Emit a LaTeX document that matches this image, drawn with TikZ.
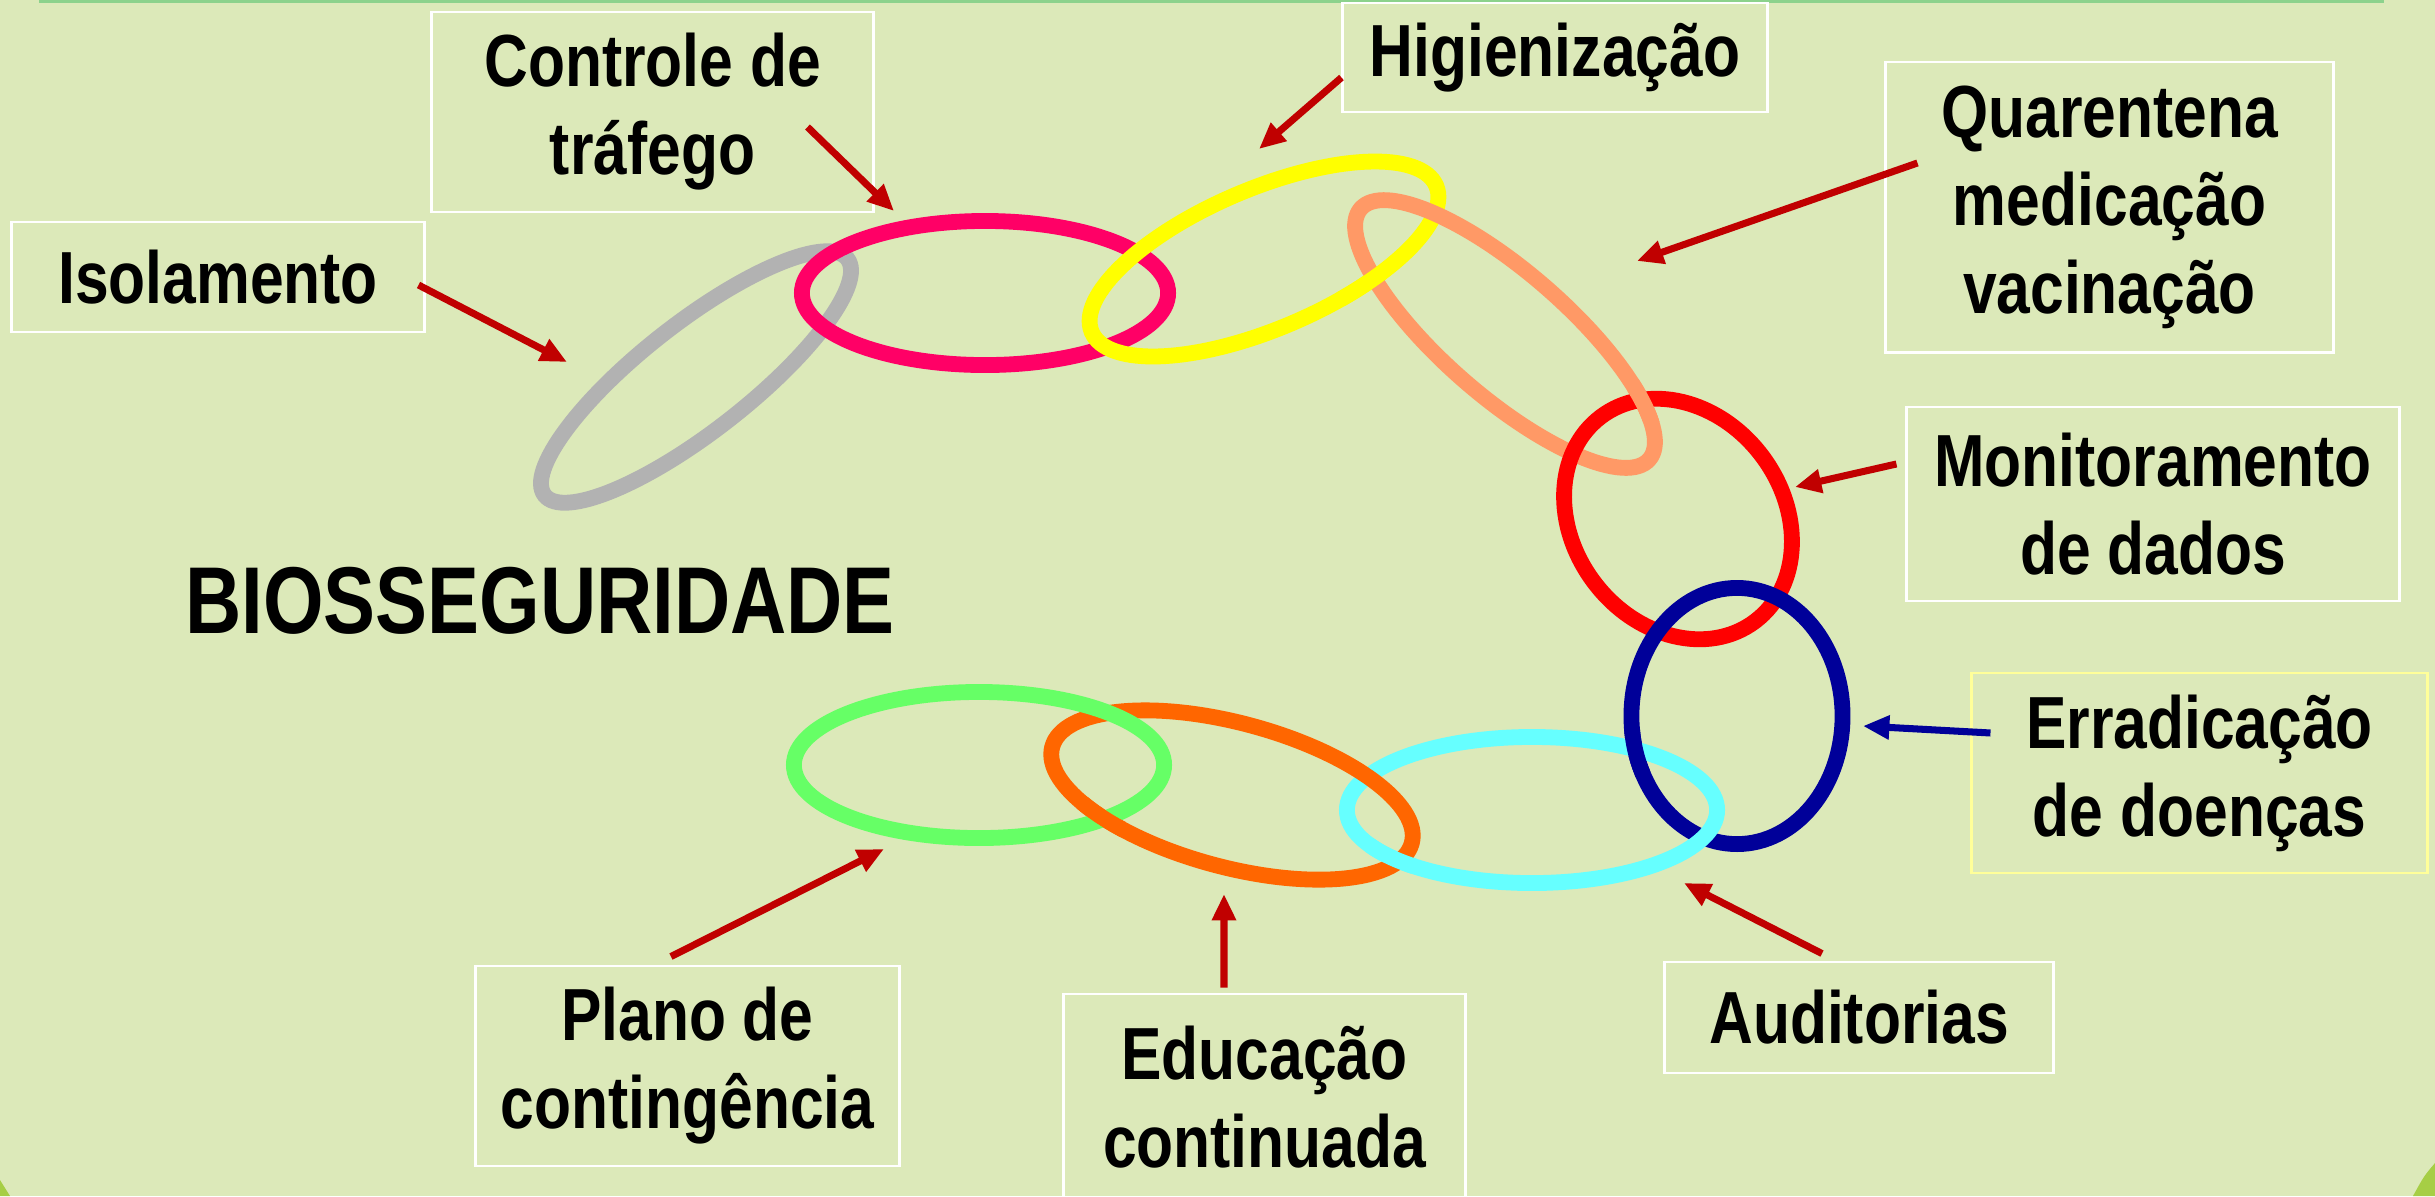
\documentclass[tikz,border=0pt]{standalone}
\usepackage{fontspec}
\setmainfont{Liberation Sans}[FakeStretch=0.82]
\usetikzlibrary{arrows.meta,shapes.geometric}

\definecolor{slidebg}{HTML}{DCE9B9}
\definecolor{topgreen}{HTML}{8CD28C}
\definecolor{cornergreen}{HTML}{A6CE45}
\definecolor{arrowred}{HTML}{C00000}
\definecolor{navy}{HTML}{000099}
\definecolor{paleyellow}{HTML}{FFFF99}
\definecolor{ringgray}{HTML}{B2B2B2}
\definecolor{ringpink}{HTML}{FF0066}
\definecolor{ringyellow}{HTML}{FFFF00}
\definecolor{ringsalmon}{HTML}{FF9966}
\definecolor{ringred}{HTML}{FF0000}
\definecolor{ringcyan}{HTML}{66FFFF}
\definecolor{ringorange}{HTML}{FF6600}
\definecolor{ringgreen}{HTML}{66FF66}

\tikzset{
  ring/.style={ellipse, draw=#1, line width=4.5pt},
  isol ring/.style={ring=ringgray, minimum width=3.84cm, minimum height=1.08cm, rotate=38},
  ctrl ring/.style={ring=ringpink, minimum width=3.66cm, minimum height=1.44cm},
  hig ring/.style={ring=ringyellow, minimum width=3.74cm, minimum height=1.40cm, rotate=23},
  quar ring/.style={ring=ringsalmon, minimum width=3.82cm, minimum height=1.24cm, rotate=-41},
  mon ring/.style={ring=ringred, minimum width=2.10cm, minimum height=2.56cm, rotate=37},
  err ring/.style={ring=navy, minimum width=2.11cm, minimum height=2.56cm},
  aud ring/.style={ring=ringcyan, minimum width=3.70cm, minimum height=1.46cm},
  edu ring/.style={ring=ringorange, minimum width=3.72cm, minimum height=1.44cm, rotate=-15},
  plano ring/.style={ring=ringgreen, minimum width=3.70cm, minimum height=1.46cm}
}

\begin{document}
\begin{tikzpicture}[x=0.01cm, y=-0.01cm,
  every node/.style={font=\bfseries\fontsize{21}{25}\selectfont, align=center, inner sep=0pt},
  box/.style={draw=white, line width=0.8pt},
  pointer/.style={-{Triangle[length=7.5pt, width=6.5pt]}, line width=2pt, draw=arrowred}]
% Slide background
\useasboundingbox (0,0) rectangle (2435,1196);
\fill[slidebg] (0,0) rectangle (2435,1196);
\fill[topgreen] (39,0) rectangle (2384,3);
\fill[cornergreen] (0,1180) -- (10,1196) -- (0,1196) -- cycle;
\fill[cornergreen] (2435,1163) .. controls (2424,1176) .. (2413,1196) -- (2435,1196) -- cycle;

% The chain of rings
\node (ring-isol)  [isol ring]  at (696,377)  {};
\node (ring-ctrl)  [ctrl ring]  at (985,293)  {};
\node (ring-hig)   [hig ring]   at (1264,259) {};
\node (ring-quar)  [quar ring]  at (1505,334) {};
\node (ring-mon)   [mon ring]   at (1678,519) {};
\node (ring-err)   [err ring]   at (1737,716) {};
\node (ring-aud)   [aud ring]   at (1532,810) {};
\node (ring-edu)   [edu ring]   at (1232,795) {};
\node (ring-plano) [plano ring] at (979,765)  {};

% links passing over at one crossing
\begin{scope}
  \clip (1362,287) circle (26);
  \node [hig ring] at (1264,259) {};
\end{scope}
\begin{scope}
  \clip (1650,400) circle (24);
  \node [quar ring] at (1505,334) {};
\end{scope}
\begin{scope}
  \clip (1633,752) circle (26);
  \node [err ring] at (1737,716) {};
\end{scope}
\begin{scope}
  \clip (1391,857) circle (26);
  \node [aud ring] at (1532,810) {};
\end{scope}
\begin{scope}
  \clip (1100,820) circle (26);
  \node [edu ring] at (1232,795) {};
\end{scope}

% Labels
\node (ctrl)  [box, minimum width=4.41cm, minimum height=2.00cm] at (652.5,112)  {Controle de\\tráfego};
\node (hig)   [box, minimum width=4.24cm, minimum height=1.09cm] at (1555,57.5)  {Higienização};
\node (quar)  [box, minimum width=4.47cm, minimum height=2.90cm] at (2109.5,207) {Quarentena\\medicação\\vacinação};
\node (isol)  [box, minimum width=4.12cm, minimum height=1.10cm] at (218,277)    {Isolamento};
\node (mon)   [box, minimum width=4.92cm, minimum height=1.94cm] at (2153,504)   {Monitoramento\\de dados};
\node (err)   [box, draw=paleyellow, minimum width=4.55cm, minimum height=2.00cm] at (2199.5,773) {Erradicação\\de doenças};
\node (aud)   [box, minimum width=3.88cm, minimum height=1.11cm] at (1859,1017.5) {Auditorias};
\node (edu)   [box, minimum width=4.01cm, minimum height=2.06cm] at (1264.5,1097) {Educação\\continuada};
\node (plano) [box, minimum width=4.23cm, minimum height=2.00cm] at (687.5,1066)  {Plano de\\contingência};
\node (title) at (540,601) {\fontsize{27}{30}\selectfont BIOSSEGURIDADE};

% Arrow tips
\coordinate (t-isol)  at (567,362);
\coordinate (t-ctrl)  at (894,211);
\coordinate (t-hig)   at (1259,149);
\coordinate (t-quar)  at (1637,261);
\coordinate (t-mon)   at (1795,487);
\coordinate (t-err)   at (1863,726);
\coordinate (t-aud)   at (1684,883);
\coordinate (t-edu)   at (1224,894);
\coordinate (t-plano) at (884,849);

\draw[pointer] ([xshift=-0.07cm,yshift=-0.08cm]isol.east) -- (t-isol);
\draw[pointer] ([xshift=-0.67cm,yshift=-0.15cm]ctrl.east) -- (t-ctrl);
\draw[pointer] ([yshift=-0.2cm]hig.west) -- (t-hig);
\draw[pointer] ([xshift=0.33cm,yshift=0.44cm]quar.west) -- (t-quar);
\draw[pointer] ([xshift=-0.09cm,yshift=0.40cm]mon.west) -- (t-mon);
\draw[pointer, draw=navy] ([xshift=0.2cm,yshift=0.4cm]err.west) -- (t-err);
\draw[pointer] ([xshift=-0.37cm,yshift=0.07cm]aud.north) -- (t-aud);
\draw[pointer] ([xshift=-0.405cm,yshift=0.05cm]edu.north) -- (t-edu);
\draw[pointer] ([xshift=-0.165cm,yshift=0.08cm]plano.north) -- (t-plano);

\end{tikzpicture}
\end{document}
